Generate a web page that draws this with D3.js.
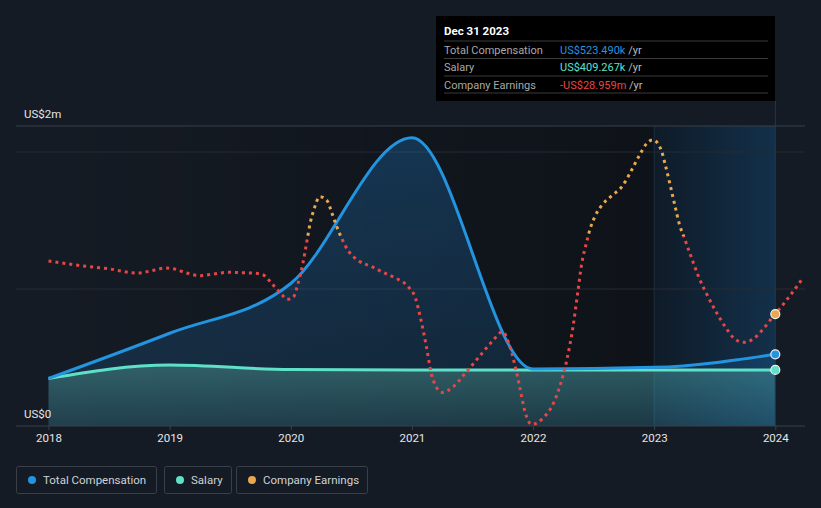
<!DOCTYPE html>
<html><head><meta charset="utf-8">
<script src="https://cdn.jsdelivr.net/npm/d3@7/dist/d3.min.js"></script>
<style>
html,body{margin:0;padding:0;background:#151b24;}
svg{display:block;font-family:Roboto,"Noto Sans",sans-serif;}
</style></head>
<body><svg id="c" width="821" height="508"></svg>
<script>
// ---- data ----
const years = [2018, 2019, 2020, 2021, 2022, 2023, 2024];
const totalComp = [0.347, 0.677, 1.04, 2.104, 0.416, 0.428, 0.52349]; // US$m
const salary = [0.347, 0.445, 0.412, 0.409, 0.409, 0.409, 0.409267]; // US$m
const earnDates = [2018.00,2018.17,2018.34,2018.51,2018.69,2018.74,2018.85,2018.97,2019.03,2019.14,2019.25,2019.36,2019.48,2019.59,2019.71,2019.77,2019.85,2019.93,2019.97,2020.02,2020.06,2020.10,2020.13,2020.16,2020.19,2020.24,2020.30,2020.34,2020.38,2020.42,2020.48,2020.56,2020.67,2020.77,2020.87,2020.97,2021.03,2021.07,2021.12,2021.16,2021.20,2021.25,2021.34,2021.45,2021.56,2021.66,2021.75,2021.80,2021.85,2021.89,2021.93,2021.99,2022.08,2022.18,2022.22,2022.28,2022.33,2022.37,2022.40,2022.44,2022.47,2022.51,2022.57,2022.65,2022.74,2022.80,2022.88,2022.94,2022.99,2023.06,2023.09,2023.13,2023.17,2023.21,2023.25,2023.31,2023.37,2023.42,2023.50,2023.59,2023.66,2023.74,2023.82,2023.90,2023.97,2024.00,2024.08,2024.15,2024.22];
const earnValues = [-9.28,-10.40,-11.40,-12.25,-13.63,-13.74,-12.89,-11.88,-12.14,-13.74,-14.74,-14.11,-13.48,-13.63,-13.85,-14.37,-17.94,-21.91,-23.51,-22.76,-17.56,-10.14,-2.71,4.72,9.65,14.59,13.11,8.43,3.45,-0.85,-5.83,-9.17,-11.40,-13.63,-15.71,-18.83,-23.13,-30.19,-41.11,-50.98,-55.96,-58.04,-55.96,-50.39,-44.56,-39.25,-35.54,-39.84,-47.90,-55.96,-64.61,-69.92,-67.69,-60.90,-55.96,-45.78,-33.68,-20.68,-10.77,-2.71,2.49,7.17,11.51,14.96,18.68,23.28,30.08,34.42,35.65,31.67,26.74,19.31,11.51,4.08,-0.85,-8.28,-15.48,-20.31,-27.22,-33.90,-37.99,-39.47,-38.14,-34.53,-30.56,-28.959,-24.51,-20.42,-16.08]; // US$m
const yTickLabels = ["US$0", "US$2m"];
const legendItems = ["Total Compensation", "Salary", "Company Earnings"];
const tooltipTitle = "Dec 31 2023";
const tooltipRows = [["Total Compensation", "US$523.490k", " /yr"], ["Salary", "US$409.267k", " /yr"], ["Company Earnings", "-US$28.959m", " /yr"]];

// ---- colours ----
const cComp = "#2394df", cSal = "#5fe0c8", cEarnPos = "#e8a84e", cEarnNeg = "#e84545";

const svg = d3.select("#c");
const x = d3.scaleLinear().domain([2018, 2024]).range([48.5, 775.3]);
const yC = d3.scaleLinear().domain([0, 2.19]).range([426, 126]);
const yE = d3.scaleLinear().domain([-70.5, 0]).range([426, 236]);
const L = 16, R = 805, plotTop = yC(2.19), plotBot = yC(0);

const defs = svg.append("defs");
function lg(id, x1, y1, x2, y2, stops, units) {
  const g = defs.append("linearGradient").attr("id", id)
    .attr("x1", x1).attr("y1", y1).attr("x2", x2).attr("y2", y2);
  if (units) g.attr("gradientUnits", units);
  stops.forEach(s => g.append("stop").attr("offset", s[0]).attr("stop-color", s[1]).attr("stop-opacity", s[2]));
}
lg("pastShade", 0, 0, 1, 0, [[0, "#000", 0], [1, "#000", 0.32]]);
lg("band", 0, 0, 1, 0, [[0, "#0f1b28", 1], [1, "#13304a", 1]]);
lg("compFill", 0, 0, 0, 1, [[0, "#2196f3", 0.24], [1, "#2196f3", 0.12]]);
lg("salFill", 0, 0, 0, 1, [[0, "#6fd9c4", 0.30], [1, "#6fd9c4", 0.12]]);
lg("earnStroke", 0, yE(0) - 0.5, 0, yE(0) + 0.5, [[0, cEarnPos, 1], [1, cEarnNeg, 1]], "userSpaceOnUse");

// backgrounds
svg.append("rect").attr("x", x(2018)).attr("y", plotTop).attr("width", x(2023) - x(2018)).attr("height", plotBot - plotTop).attr("fill", "url(#pastShade)");
svg.append("rect").attr("x", x(2023)).attr("y", plotTop).attr("width", x(2024) - x(2023)).attr("height", plotBot - plotTop).attr("fill", "url(#band)");
svg.append("line").attr("x1", x(2023)).attr("x2", x(2023)).attr("y1", plotTop).attr("y2", plotBot).attr("stroke", "#1a2e40").attr("stroke-width", 1);

// gridlines
svg.append("line").attr("x1", L).attr("x2", R).attr("y1", plotTop).attr("y2", plotTop).attr("stroke", "#3b4049");
[1, 2].forEach(v => svg.append("line").attr("x1", L).attr("x2", R).attr("y1", yC(v)).attr("y2", yC(v)).attr("stroke", "#262b33"));

// areas
const compArea = d3.area().x((d, i) => x(years[i])).y0(yC(0)).y1(d => yC(d)).curve(d3.curveMonotoneX);
svg.append("path").attr("d", compArea(totalComp)).attr("fill", "url(#compFill)");
svg.append("path").attr("d", compArea(salary)).attr("fill", "url(#salFill)");

// tooltip vertical line
svg.append("line").attr("x1", x(2024)).attr("x2", x(2024)).attr("y1", 101).attr("y2", plotBot).attr("stroke", "#1d3a55").attr("stroke-width", 1);

// lines
const lineC = d3.line().x((d, i) => x(years[i])).y(d => yC(d)).curve(d3.curveMonotoneX);
svg.append("path").attr("d", lineC(salary)).attr("fill", "none").attr("stroke", cSal).attr("stroke-width", 3);
svg.append("path").attr("d", lineC(totalComp)).attr("fill", "none").attr("stroke", cComp).attr("stroke-width", 3);

const lineE = d3.line().x((d, i) => x(earnDates[i])).y(d => yE(d)).curve(d3.curveMonotoneX);
svg.append("path").attr("d", lineE(earnValues)).attr("fill", "none").attr("stroke", "url(#earnStroke)")
  .attr("stroke-width", 3).attr("stroke-dasharray", "3 4");

// axis
svg.append("line").attr("x1", L).attr("x2", R).attr("y1", plotBot).attr("y2", plotBot).attr("stroke", "#3b4049");
const xAxis = svg.append("g").attr("transform", `translate(0,${plotBot})`)
  .call(d3.axisBottom(x).tickValues(years).tickFormat(d3.format("d")).tickSize(4).tickPadding(4));
xAxis.select(".domain").remove();
xAxis.selectAll("line").attr("stroke", "#3b4049");
xAxis.selectAll("text").attr("fill", "#e6e6e6").attr("font-size", 11.5).attr("font-family", "Roboto, sans-serif");

// y labels
svg.append("text").attr("x", 24).attr("y", yC(0) - 8).attr("fill", "#e6e6e6").attr("font-size", 11.5).text(yTickLabels[0]);
svg.append("text").attr("x", 24).attr("y", yC(2.19) - 8).attr("fill", "#e6e6e6").attr("font-size", 11.5).text(yTickLabels[1]);

// end dots
const lastI = years.length - 1;
const eI = earnDates.indexOf(2024);
svg.append("circle").attr("cx", x(earnDates[eI])).attr("cy", yE(earnValues[eI])).attr("r", 4.5).attr("fill", cEarnPos).attr("stroke", "#f0f0f0").attr("stroke-width", 1.2);
svg.append("circle").attr("cx", x(years[lastI])).attr("cy", yC(totalComp[lastI])).attr("r", 4.5).attr("fill", cComp).attr("stroke", "#f0f0f0").attr("stroke-width", 1.2);
svg.append("circle").attr("cx", x(years[lastI])).attr("cy", yC(salary[lastI])).attr("r", 4.5).attr("fill", cSal).attr("stroke", "#f0f0f0").attr("stroke-width", 1.2);

// tooltip
const tt = svg.append("g");
tt.append("rect").attr("x", 436).attr("y", 16).attr("width", 339).attr("height", 85).attr("fill", "#000");
tt.append("text").attr("x", 444).attr("y", 35).attr("fill", "#fff").attr("font-size", 11.5).attr("font-weight", "bold").text(tooltipTitle);
const rowCols = [cComp, cSal, cEarnNeg];
[41, 58.5, 76, 93].forEach(yy => tt.append("line").attr("x1", 444).attr("x2", 768).attr("y1", yy).attr("y2", yy).attr("stroke", "#3a3a3a"));
tooltipRows.forEach((r, i) => {
  const yy = 53.5 + i * 17.5;
  tt.append("text").attr("x", 444).attr("y", yy).attr("fill", "#a8a8a8").attr("font-size", 11).text(r[0]);
  const t = tt.append("text").attr("x", 560).attr("y", yy).attr("font-size", 11);
  t.append("tspan").attr("fill", rowCols[i]).text(r[1]);
  t.append("tspan").attr("fill", "#bbb").text(r[2]);
});

// legend
const legCols = [cComp, cSal, cEarnPos];
const legX = [16, 164, 236], legW = [140, 67, 131];
legendItems.forEach((s, i) => {
  const g = svg.append("g").attr("transform", `translate(${legX[i]},466)`);
  g.append("rect").attr("x", 0.5).attr("y", 0.5).attr("width", legW[i]).attr("height", 27).attr("rx", 2).attr("fill", "none").attr("stroke", "#3a4049");
  g.append("circle").attr("cx", 16).attr("cy", 14).attr("r", 4).attr("fill", legCols[i]);
  g.append("text").attr("x", 27).attr("y", 18).attr("fill", "#cfd2d6").attr("font-size", 11.5).text(s);
});
</script></body></html>
